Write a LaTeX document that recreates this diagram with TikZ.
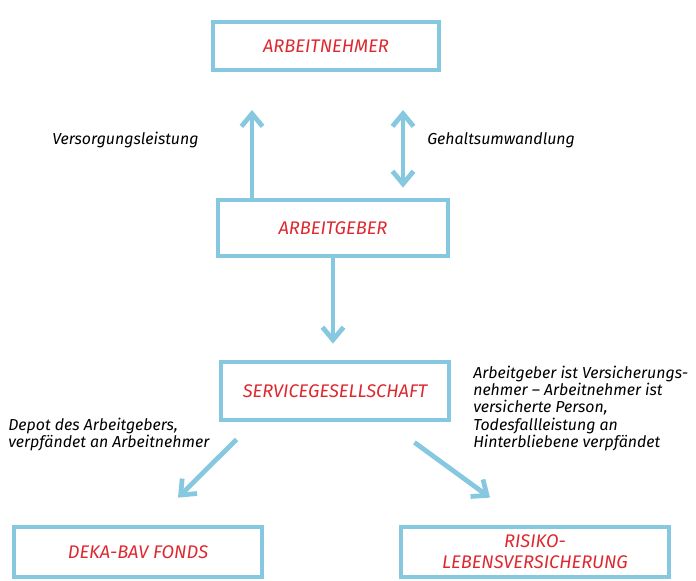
\documentclass[tikz,border=0pt]{standalone}
\usepackage{fontspec}
\setmainfont{Fira Sans}
\usetikzlibrary{arrows.meta}
\definecolor{skyline}{RGB}{135,200,225}
\definecolor{penred}{RGB}{222,40,48}

\begin{document}
\begin{tikzpicture}[x=0.025cm,y=-0.025cm]

\tikzstyle{bx} = [rectangle, draw=skyline, line width=3.4pt, text=penred, font=\itshape\fontsize{13}{15}\selectfont, align=center, inner sep=0pt]
\tikzstyle{note} = [font=\itshape\fontsize{11.3}{12.2}\selectfont, align=left, inner sep=0pt]
\tikzstyle{arr} = [draw=skyline, line width=3.4pt, -{Straight Barb[length=9pt,width=15pt]}]
\tikzstyle{arr2} = [arr, {Straight Barb[length=9pt,width=15pt]}-{Straight Barb[length=9pt,width=15pt]}]
\useasboundingbox (0,0) rectangle (696,580);

\node (an) [bx, minimum width=5.65cm, minimum height=1.2cm] at (326,46) {ARBEITNEHMER};
\node (ag) [bx, minimum width=5.75cm, minimum height=1.4cm] at (333,228) {ARBEITGEBER};
\node (sg) [bx, minimum width=5.7cm, minimum height=1.45cm] at (335,391) {SERVICEGESELLSCHAFT};
\node (dk) [bx, minimum width=6.2cm, minimum height=1.25cm] at (138,552) {DEKA-BAV FONDS};
\node (rl) [bx, minimum width=6.7cm, minimum height=1.25cm] at (535,552) {RISIKO-\\LEBENSVERSICHERUNG};

\node (vl) [note, anchor=west] at (52,140) {Versorgungsleistung};
\node (gu) [note, anchor=west] at (427,140) {Gehaltsumwandlung};
\node (dp) [note, anchor=north west] at (8,418) {Depot des Arbeitgebers,\\verpfändet an Arbeitnehmer};
\node (vs) [note, anchor=north west] at (473,366) {Arbeitgeber ist Versicherungs-\\nehmer -- Arbeitnehmer ist\\versicherte Person,\\Todesfallleistung an\\Hinterbliebene verpfändet};

\coordinate (vt) at (252,110);
\coordinate (gt) at (403,110);
\draw[arr] (ag.north -| vt) -- (vt);
\draw[arr2, shorten <=0.25cm] (ag.north -| gt) -- (gt);
\draw[arr, shorten >=0.4cm] (ag) -- (ag |- sg.north);
\draw[arr] ([shift={(18,17)}]sg.south west) -- ([shift={(40,-27)}]dk.north);
\draw[arr] ([shift={(-37,20)}]sg.south east) -- ([shift={(-45,-27)}]rl.north);
\end{tikzpicture}
\end{document}
